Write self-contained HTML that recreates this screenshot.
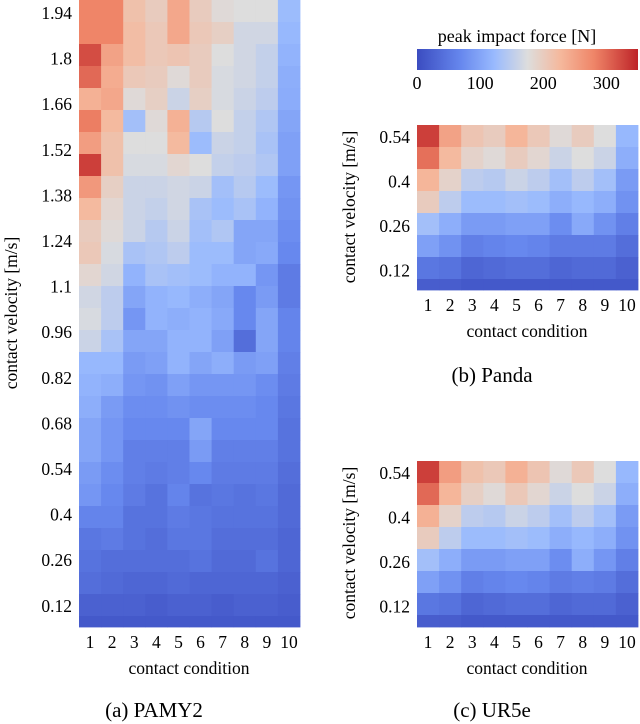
<!DOCTYPE html>
<html><head><meta charset="utf-8"><style>
html,body{margin:0;padding:0;background:#fff;}
svg{display:block;font-family:"Liberation Serif",serif;}
</style></head><body>
<svg id="chart" width="640" height="724" viewBox="0 0 640 724" xmlns="http://www.w3.org/2000/svg">
<defs>
<linearGradient id="cbg" x1="0" x2="1" y1="0" y2="0"></linearGradient>
</defs>
<g id="plots"></g>
<g>
<text x="517" y="42" font-size="18" text-anchor="middle">peak impact force [N]</text>
<rect x="417" y="49" width="221" height="21" fill="url(#cbg)"></rect>
<g id="cbticks"></g>
</g>
</svg>
<script>
const VMAX = 350;
const conditions = ["1","2","3","4","5","6","7","8","9","10"];
const pamyTicks = ["1.94","1.8","1.66","1.52","1.38","1.24","1.1","0.96","0.82","0.68","0.54","0.4","0.26","0.12"];
const smallTicks = ["0.54","0.4","0.26","0.12"];
const colorbarTicks = [0,100,200,300];
const pamyValues = [
[280,280,215,200,245,200,180,175,175,125],
[280,280,220,205,245,205,195,165,165,120],
[320,250,220,205,210,200,175,165,155,115],
[300,240,205,200,180,200,170,165,155,110],
[235,245,180,195,160,195,170,160,150,108],
[285,225,130,180,235,145,175,155,140,100],
[255,215,175,175,225,125,160,155,135,95],
[330,215,170,170,185,175,155,150,140,95],
[260,195,160,160,165,160,130,145,125,85],
[225,185,160,155,165,135,125,135,115,80],
[200,180,160,145,160,130,140,100,100,75],
[205,170,135,140,150,125,125,100,105,70],
[185,165,115,135,130,125,115,115,85,55],
[165,150,100,115,120,110,100,70,90,55],
[170,150,85,115,110,115,105,70,100,65],
[160,135,100,100,115,115,95,40,100,65],
[120,120,90,95,115,100,110,90,95,60],
[115,110,85,80,95,85,85,85,75,55],
[110,90,75,75,80,75,75,75,70,50],
[100,85,70,70,70,100,70,70,70,45],
[100,85,60,60,60,90,60,60,60,45],
[90,75,60,55,60,70,55,55,55,40],
[85,70,55,45,65,45,50,45,50,35],
[65,65,45,45,55,50,45,45,45,35],
[50,55,45,40,50,50,40,40,40,30],
[45,40,40,40,40,45,35,35,45,30],
[40,35,30,30,35,30,30,30,30,25],
[25,25,25,20,25,25,20,25,25,20],
[15,15,15,15,15,15,15,15,15,15]
];
const pandaValues = [
[330,250,210,200,230,205,180,200,175,120],
[295,225,190,180,200,185,160,175,160,110],
[230,190,150,145,160,150,130,150,130,90],
[200,150,125,125,130,125,110,120,110,80],
[130,110,90,90,95,95,75,105,80,60],
[95,80,60,65,70,65,55,55,55,40],
[50,45,30,35,40,40,30,35,35,25],
[20,20,15,15,15,15,15,15,15,15]
];
const ur5eValues = [
[330,255,215,205,235,210,180,205,175,120],
[300,230,195,180,205,185,160,175,160,110],
[235,190,150,145,160,150,130,150,130,90],
[200,150,125,125,130,125,110,120,110,80],
[130,110,90,90,95,95,75,110,85,60],
[95,80,60,65,70,65,55,60,55,40],
[50,45,30,35,40,40,30,35,35,25],
[20,20,15,15,15,15,15,15,15,15]
];

const stops=[[0,59,76,192],[0.2,103,136,238],[0.35,153,186,254],[0.5,221,221,221],[0.65,245,184,156],[0.8,239,133,104],[1,190,35,40]];
function cmap(v){
  let t=Math.max(0,Math.min(1,v/VMAX));
  for(let i=1;i<stops.length;i++){
    if(t<=stops[i][0]){
      const a=stops[i-1],b=stops[i],f=(t-a[0])/(b[0]-a[0]);
      return `rgb(${Math.round(a[1]+(b[1]-a[1])*f)},${Math.round(a[2]+(b[2]-a[2])*f)},${Math.round(a[3]+(b[3]-a[3])*f)})`;
    }
  }
  return "rgb(190,35,40)";
}
const NS="http://www.w3.org/2000/svg";
function mk(tag,attrs,parent){const e=document.createElementNS(NS,tag);for(const k in attrs)e.setAttribute(k,attrs[k]);parent.appendChild(e);return e;}

const grad=document.getElementById('cbg');
for(let i=0;i<=20;i++){mk('stop',{offset:(i/20),'stop-color':cmap(i/20*VMAX)},grad);}
const cbt=document.getElementById('cbticks');
const cbX=v=>417+v/VMAX*221;
colorbarTicks.forEach(v=>{
  const t=mk('text',{x:cbX(v),y:89,'font-size':18,'text-anchor':'middle'},cbt);
  
  
  t.textContent=v;
});

const plots=document.getElementById('plots');
function heatmap(name,values,x0,y0,plotBottom,ticks,tickTop,tickStep,ylabY,xlabY,caption,capX,capY){
  const g=mk('g',{},plots);
  
  
  const cw=22.1,rh=22;
  const xS=i=>x0+i*cw;
  const yS=r=>y0+r*rh;
  values.forEach((row,r)=>{
    row.forEach((v,c)=>{
      const h=Math.min(rh,plotBottom-yS(r));
      if(h<=0)return;
      const rc=mk('rect',{x:xS(c),y:yS(r),width:cw+0.4,height:h+0.4,fill:cmap(v)},g);
      
      
    });
  });
  ticks.forEach((t,i)=>{
    const e=mk('text',{x:x0-7,y:tickTop+i*tickStep+6,'font-size':17.5,'text-anchor':'end'},g);
    
    
    e.textContent=t;
  });
  conditions.forEach((c,i)=>{
    const e=mk('text',{x:xS(i)+cw/2,y:plotBottom+21,'font-size':17.5,'text-anchor':'middle'},g);
    
    
    e.textContent=c;
  });
  const xl=mk('text',{x:x0+110,y:xlabY,'font-size':17.5,'text-anchor':'middle'},g);
  
  
  xl.textContent='contact condition';
  const yx=x0-62;
  const yl=mk('text',{x:yx,y:ylabY,'font-size':17.5,'text-anchor':'middle',transform:`rotate(-90 ${yx} ${ylabY})`},g);
  
  
  yl.textContent='contact velocity [m/s]';
  const cp=mk('text',{x:capX,y:capY,'font-size':21,'text-anchor':'middle'},g);
  
  
  cp.textContent=caption;
}
heatmap('pamy2',pamyValues,79,0,627,pamyTicks,13,45.6,313,674,'(a) PAMY2',154,717);
heatmap('panda',pandaValues,417,125,290,smallTicks,137,44.5,207,337,'(b) Panda',492,382);
heatmap('ur5e',ur5eValues,417,461,627,smallTicks,473,44.5,543,674,'(c) UR5e',492,717);
</script>
</body></html>
